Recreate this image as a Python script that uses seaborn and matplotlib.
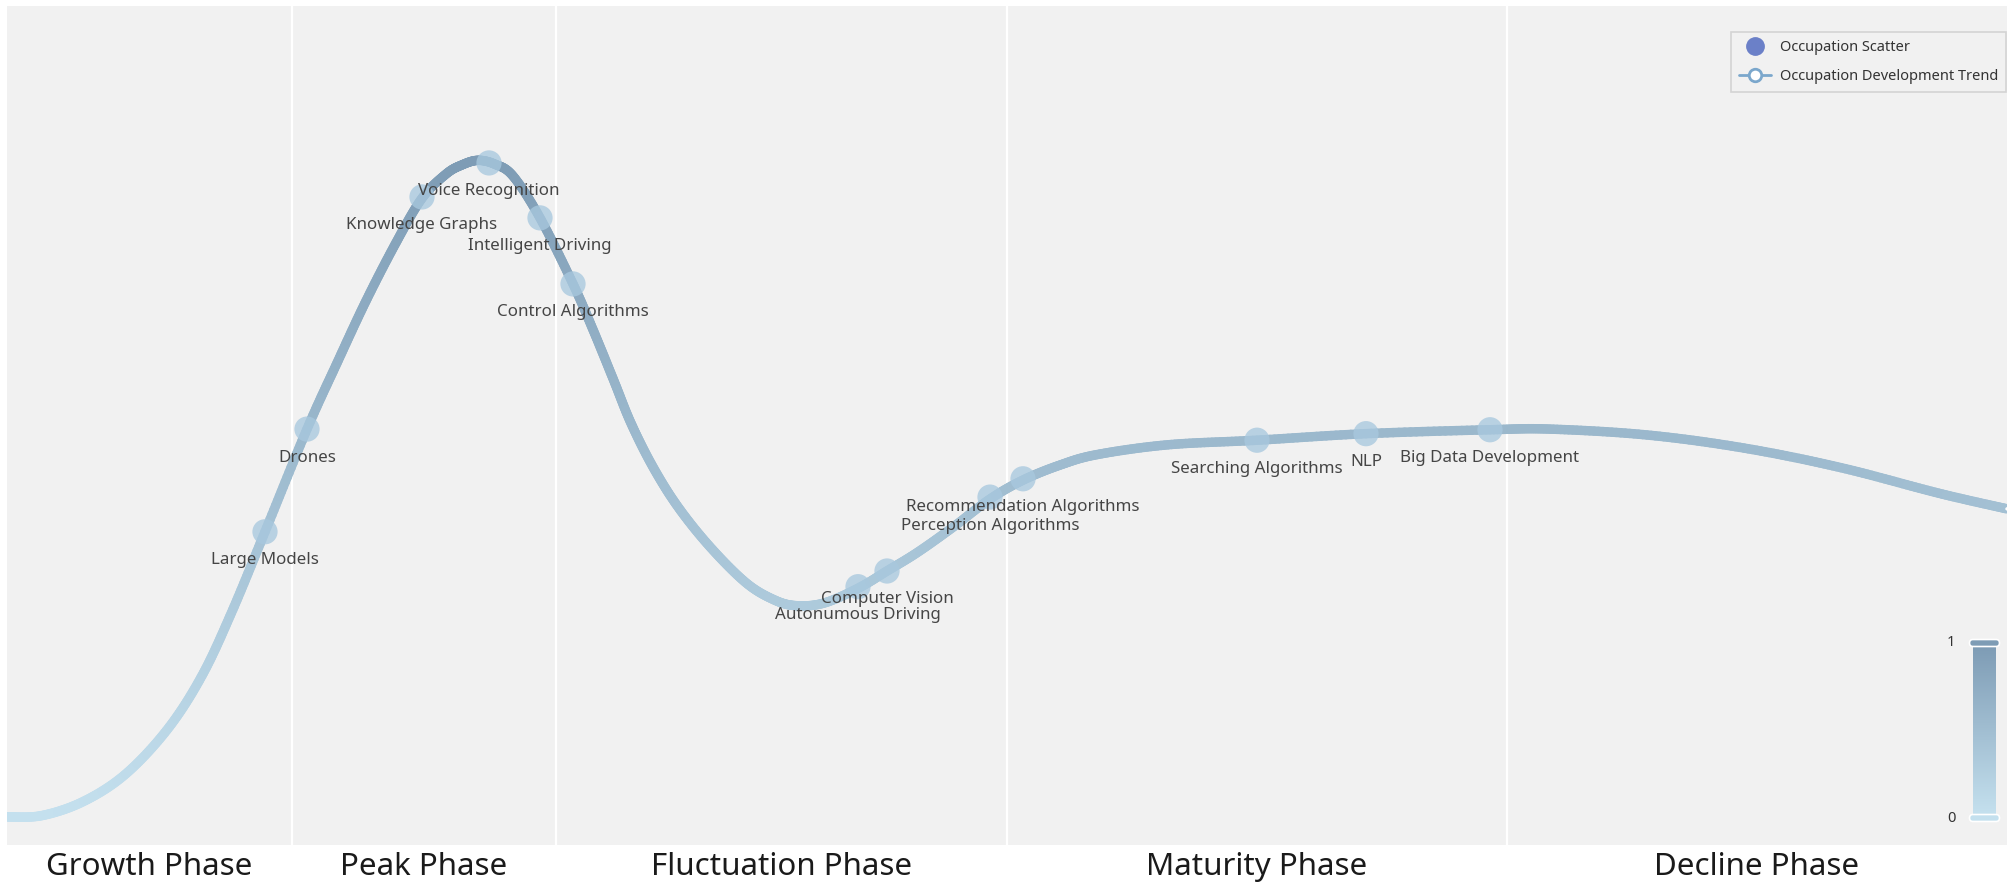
import numpy as np
import pandas as pd
import matplotlib
matplotlib.use("Agg")
import matplotlib.pyplot as plt
import matplotlib.transforms as mtransforms
from matplotlib.path import Path
import seaborn as sns
from matplotlib.collections import LineCollection
from matplotlib.colors import LinearSegmentedColormap
from matplotlib.lines import Line2D
from matplotlib.patches import FancyBboxPatch

# ---------------- data ----------------
trend_x = [0.0, 1.75, 3.85, 5.95, 8.05, 9.75, 11.22, 12.9, 15.0, 16.5, 17.95, 19.45,
           20.75, 21.95, 22.75, 23.55, 24.4, 25.3, 26.65, 28.3, 29.3, 30.33, 31.2,
           32.3, 33.55, 35.15, 36.95, 38.35, 39.45, 40.85, 42.58, 44.0, 45.5, 47.3,
           49.15, 50.8, 52.65, 54.5, 58.05, 62.5, 67.95, 74.15, 77.15, 82.0, 86.85,
           91.7, 96.58, 100.0]
trend_y = [0.0, 0.002, 0.024, 0.066, 0.135, 0.216, 0.312, 0.436, 0.593, 0.694, 0.789,
           0.878, 0.946, 0.983, 0.997, 1.004, 0.998, 0.980, 0.916, 0.815, 0.745, 0.668,
           0.602, 0.535, 0.474, 0.413, 0.358, 0.332, 0.323, 0.327, 0.350, 0.376, 0.404,
           0.443, 0.486, 0.515, 0.538, 0.554, 0.569, 0.576, 0.586, 0.592, 0.593, 0.584,
           0.564, 0.534, 0.495, 0.471]

occupations = ["Large Models", "Drones", "Knowledge Graphs", "Voice Recognition",
               "Intelligent Driving", "Control Algorithms", "Autonumous Driving",
               "Computer Vision", "Perception Algorithms", "Recommendation Algorithms",
               "Searching Algorithms", "NLP", "Big Data Development"]
occ_x = [12.9, 15.0, 20.75, 24.1, 26.65, 28.3, 42.55, 44.0, 49.15, 50.8, 62.5, 67.95, 74.15]
occ_y = [0.436, 0.593, 0.948, 1.0, 0.916, 0.815, 0.352, 0.376, 0.489, 0.517, 0.576, 0.586, 0.592]

phases = ["Growth Phase", "Peak Phase", "Fluctuation Phase", "Maturity Phase", "Decline Phase"]
phase_bounds = [0, 14.25, 27.45, 50, 75, 100]

scale_labels = ["0", "1"]
scale_colors = ["#c4e0ee", "#7e9cb5"]
scatter_color = "#a8c8de"

# ---------------- style ----------------
sns.set_theme(style="white")
plt.rcParams['font.family'] = ['Noto Sans', 'DejaVu Sans']

W, H = 2015, 890
fig = plt.figure(figsize=(W / 100, H / 100), dpi=100)
fig.patch.set_facecolor("white")
ax = fig.add_axes([7 / W, 45 / H, 2000 / W, 839 / H])
ax.set_facecolor("#f1f1f1")

cmap = LinearSegmentedColormap.from_list("trend", scale_colors)
norm = plt.Normalize(0, 1)

# phase separators
for b in phase_bounds[1:-1]:
    ax.axvline(b, color="white", lw=1.6, zorder=1)

# trend line: seaborn line (hidden base) + smooth Bezier rendering with gradient
df_trend = pd.DataFrame({"x": trend_x, "y": trend_y})
sns.lineplot(data=df_trend, x="x", y="y", ax=ax, color=cmap(0.5), lw=0,
             sort=False, zorder=2, legend=False)

P = np.column_stack([trend_x, trend_y])
verts = [P[0]]
codes = [Path.MOVETO]
n = len(P)
for i in range(n - 1):
    p0 = P[max(i - 1, 0)]
    p1 = P[i]
    p2 = P[i + 1]
    p3 = P[min(i + 2, n - 1)]
    c1 = p1 + (p2 - p0) / 6.0
    c2 = p2 - (p3 - p1) / 6.0
    verts += [c1, c2, p2]
    codes += [Path.CURVE4, Path.CURVE4, Path.CURVE4]
smooth_path = Path(np.array(verts), codes)
curve_pts = []
for seg, code in smooth_path.iter_bezier():
    if code == Path.CURVE4:
        pts = seg(np.linspace(0, 1, 24))
        if curve_pts:
            pts = pts[1:]
        curve_pts.append(pts)
curve_pts = np.vstack(curve_pts)
segs = np.stack([curve_pts[:-1], curve_pts[1:]], axis=1)
seg_vals = (curve_pts[:-1, 1] + curve_pts[1:, 1]) / 2
lc = LineCollection(segs, colors=cmap(norm(seg_vals)), linewidths=6.8,
                    capstyle="round", joinstyle="round", zorder=3)
ax.add_collection(lc)

# hollow end symbol of the trend series
sns.scatterplot(data=df_trend.iloc[[-1]], x="x", y="y", ax=ax, s=6, color="white",
                edgecolor="none", legend=False, zorder=3.5)

# scatter points
df_occ = pd.DataFrame({"name": occupations, "x": occ_x, "y": occ_y})
sns.scatterplot(data=df_occ, x="x", y="y", color=scatter_color,
                s=330, alpha=0.78, edgecolor="none", legend=False, ax=ax, zorder=4)
for name, x, y in zip(occupations, occ_x, occ_y):
    ax.annotate(name, (x, y), xytext=(0, -20.5), textcoords="offset points",
                ha="center", va="center", fontsize=12.2, color="#454545", zorder=5)

ax.set_xlim(0, 100)
ax.set_ylim(-0.043, 1.24)
ax.set_xticks([])
ax.set_yticks([])
ax.set_xlabel("")
ax.set_ylabel("")
for sp in ax.spines.values():
    sp.set_visible(False)

# phase labels
trans = mtransforms.blended_transform_factory(ax.transData, fig.transFigure)
for i, ph in enumerate(phases):
    cx = (phase_bounds[i] + phase_bounds[i + 1]) / 2
    ax.text(cx, 1 - 867 / H, ph, transform=trans, ha="center", va="center",
            fontsize=22.5, color="#1a1a1a", clip_on=False)

# legend
handles = [
    Line2D([], [], marker="o", ls="", markersize=12.5, color="#6b80c8",
           markeredgecolor="#6b80c8"),
    Line2D([], [], marker="o", color="#7ba7cc", markerfacecolor="white",
           markeredgecolor="#7ba7cc", markeredgewidth=2, markersize=9, lw=2),
]
leg = ax.legend(handles, ["Occupation Scatter", "Occupation Development Trend"],
                loc="upper right", bbox_to_anchor=(0.9995, 0.969), borderaxespad=0,
                fontsize=10.5, frameon=True, fancybox=False, handlelength=2.2,
                handletextpad=0.6, labelspacing=0.95, borderpad=0.55)
leg.get_frame().set_edgecolor("#cccccc")
leg.get_frame().set_facecolor("#f2f2f2")
leg.get_frame().set_linewidth(1.2)
for t in leg.get_texts():
    t.set_color("#333333")

# continuous scale (visual map) in pixel overlay
ov = fig.add_axes([0, 0, 1, 1])
ov.axis("off")
grad = np.linspace(1, 0, 256).reshape(-1, 1)
ov.imshow(grad, cmap=cmap, norm=norm, aspect="auto",
          extent=(1973, 1996, 814, 646), origin="upper", zorder=1)
ov.set_xlim(0, W)
ov.set_ylim(H, 0)
for yc, val in [(643, 1.0), (818, 0.0)]:
    ov.add_patch(FancyBboxPatch((1969.5, yc - 3.5), 30, 7,
                                boxstyle="round,pad=0,rounding_size=3.5",
                                fc=cmap(val), ec="white", lw=1.2, zorder=2))
ov.text(1951, 643, scale_labels[1], ha="center", va="center", fontsize=10.5, color="#333333")
ov.text(1951, 818, scale_labels[0], ha="center", va="center", fontsize=10.5, color="#333333")

fig.savefig("out.png", dpi=100, facecolor="white")
